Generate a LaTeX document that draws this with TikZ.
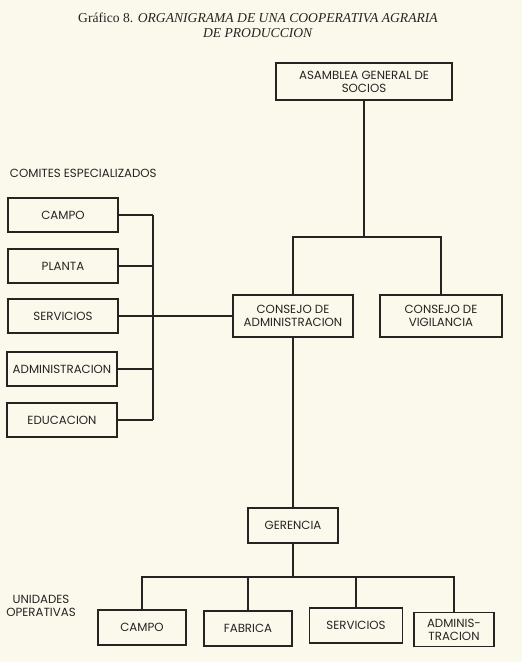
\documentclass[tikz,border=0pt]{standalone}
\usepackage{fontspec}
\setmainfont{Liberation Serif}
\newfontfamily\boxfont{Poppins}
\usepackage{tikz}
\usetikzlibrary{positioning,calc}
\usepackage{xcolor}
\definecolor{paper}{RGB}{251,249,236}
\definecolor{ink}{RGB}{38,36,34}

\begin{document}
\begin{tikzpicture}[
    x=1pt, y=-1pt,
    line width=1.3pt,
    unit/.style={draw=ink, line width=1.3pt, inner sep=0pt, align=center,
                 text=ink, font=\boxfont\fontsize{11.8}{13}\selectfont},
    comite/.style={unit, minimum width=110pt, minimum height=34pt},
    opunit/.style={unit, minimum height=35pt},
    link/.style={draw=ink, line width=1.3pt},
    heading/.style={text=ink, font=\boxfont\fontsize{11.8}{13}\selectfont, align=center}
  ]

  %% paper and frame
  \fill[paper] (0,0) rectangle (522,662);
  \useasboundingbox (0,0) rectangle (522,662);

  %% title
  \node (title) [text=ink, font=\fontsize{13.6}{15}\selectfont, align=center] at (258,25.5)
    {Gráfico 8. \textit{ORGANIGRAMA DE UNA COOPERATIVA AGRARIA}\\ \textit{DE PRODUCCION}};

  %% top of the hierarchy
  \node (asamblea) [unit, minimum width=176pt, minimum height=37pt] at (364,81.5)
    {ASAMBLEA GENERAL DE\\ SOCIOS};
  \node (adm) [unit, minimum width=120pt, minimum height=42pt] at (293,316)
    {CONSEJO DE\\ ADMINISTRACION};
  \node (vig) [unit, minimum width=122pt, minimum height=42pt] at (441,316)
    {CONSEJO DE\\ VIGILANCIA};
  \coordinate (asplit) at (364,237);
  \draw[link] (asamblea.south) -- (asplit);
  \draw[link] (adm.north) |- (asplit) -| (vig.north);

  %% comites especializados
  \node (comites) [heading, anchor=west] at (6,173) {COMITES ESPECIALIZADOS};
  \node (ccampo) [comite] at (63,215)   {CAMPO};
  \node (cplanta) [comite] at (63,266)  {PLANTA};
  \node (cserv) [comite] at (63,316)    {SERVICIOS};
  \node (cadmin) [comite] at (62,369)   {ADMINISTRACION};
  \node (ceduc) [comite] at (62,420)    {EDUCACION};
  \coordinate (cbus) at (153,0);
  \foreach \c in {ccampo,cplanta,cadmin,ceduc}
    \draw[link] (\c.east) -- (\c.east -| cbus);
  \draw[link] (ccampo.east -| cbus) -- (ceduc.east -| cbus);
  \draw[link] (cserv.east) -- (adm.west);

  %% gerencia
  \node (ger) [unit, minimum width=90pt, minimum height=35pt] at (293,525.5) {GERENCIA};
  \draw[link] (adm.south) -- (ger.north);

  %% unidades operativas
  \node (unidades) [heading] at (41,606) {UNIDADES\\ OPERATIVAS};
  \node (ucampo) [opunit, minimum width=88pt] at (142,627.5) {CAMPO};
  \node (ufab) [opunit, minimum width=88pt] at (248,628.5)   {FABRICA};
  \node (userv) [opunit, minimum width=93pt] at (356,625.5)  {SERVICIOS};
  \node (uadmin) [opunit, minimum width=80pt, minimum height=34pt] at (454,629.5)
    {ADMINIS-\\ TRACION};
  \coordinate (gsplit) at (293,577);
  \draw[link] (ger.south) -- (gsplit);
  \draw[link] (ucampo.north) |- (gsplit) -| (uadmin.north);
  \foreach \u in {ufab,userv}
    \draw[link] (\u.north) -- (\u.north |- gsplit);

\end{tikzpicture}
\end{document}
